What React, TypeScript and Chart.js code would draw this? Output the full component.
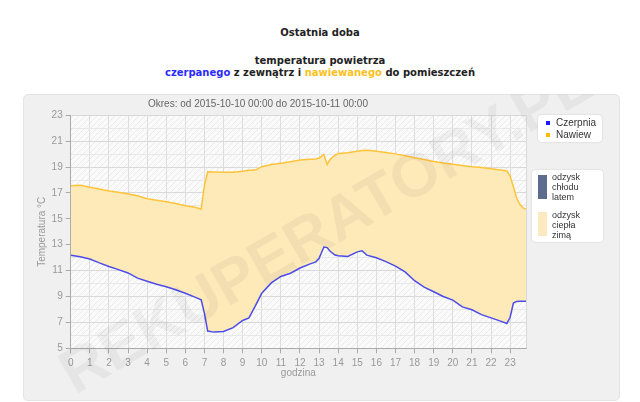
import React, { useEffect, useRef } from 'react';
import { Chart, registerables } from 'chart.js';

Chart.register(...registerables);

// ---- data ----
const hours = [
  0, 0.5, 1, 1.5, 2, 2.5, 3, 3.5, 4, 4.5, 5, 5.5, 6, 6.5,
  6.83, 7, 7.17, 7.5, 8, 8.5, 9, 9.33, 9.67, 10,
  10.5, 11, 11.5, 12, 12.5, 12.83,
  13, 13.25, 13.42, 13.58, 13.83, 14,
  14.5, 15, 15.25, 15.5, 16, 16.5, 17, 17.5, 18, 18.5, 19, 19.5, 20, 20.5, 21, 21.5, 22, 22.5,
  22.83, 23, 23.17, 23.33, 23.5, 23.67, 23.83,
];

const nawiew = [
  17.55, 17.6, 17.45, 17.3, 17.15, 17.05, 16.92, 16.78, 16.55, 16.43, 16.32, 16.18, 16.02, 15.9,
  15.76, 17.6, 18.64, 18.62, 18.6, 18.6, 18.68, 18.75, 18.77, 19.03,
  19.2, 19.3, 19.42, 19.55, 19.6, 19.62,
  19.7, 19.98, 19.2, 19.6, 19.9, 20.05,
  20.1, 20.22, 20.28, 20.3, 20.22, 20.12, 20.02, 19.88, 19.72, 19.58, 19.43, 19.32, 19.22, 19.12, 19.02, 18.97, 18.88, 18.78,
  18.7, 18.3, 17.5, 16.65, 16.15, 15.85, 15.76,
];

const czerpnia = [
  12.18, 12.07, 11.9, 11.6, 11.32, 11.08, 10.82, 10.42, 10.18, 9.95, 9.75, 9.52, 9.25, 8.95,
  8.75, 7.7, 6.33, 6.25, 6.3, 6.6, 7.15, 7.35, 8.3, 9.25,
  10.05, 10.55, 10.8, 11.2, 11.5, 11.68,
  11.95, 12.82, 12.78, 12.5, 12.2, 12.15,
  12.1, 12.45, 12.54, 12.2, 12.0, 11.7, 11.35, 10.9, 10.22, 9.72, 9.37, 9.0, 8.72, 8.2, 7.98, 7.6, 7.35, 7.1,
  6.92, 7.4, 8.5, 8.62, 8.63, 8.64, 8.64,
];

const xRange = [0, 23.83];
const yRange = [5, 23];
const chartTitle = 'Okres: od 2015-10-10 00:00 do 2015-10-11 00:00';
const xTitle = 'godzina';
const yTitle = 'Temperatura °C';
const watermarkText = 'REKUPERATORY.PL';
const seriesLabels = ['Czerpnia', 'Nawiew'];

const FONT = '"Liberation Sans", Arial, sans-serif';

export default function App() {
  const ref = useRef<HTMLCanvasElement>(null);

  useEffect(() => {
    const canvas = ref.current;
    if (!canvas) return;

    // hatched plot background
    const pc = document.createElement('canvas');
    pc.width = 6;
    pc.height = 6;
    const pctx = pc.getContext('2d')!;
    pctx.fillStyle = '#fafafa';
    pctx.fillRect(0, 0, 6, 6);
    pctx.strokeStyle = '#ebebeb';
    pctx.lineWidth = 1;
    pctx.beginPath();
    pctx.moveTo(0, 6);
    pctx.lineTo(6, 0);
    pctx.moveTo(-1, 1);
    pctx.lineTo(1, -1);
    pctx.moveTo(5, 7);
    pctx.lineTo(7, 5);
    pctx.stroke();

    const bgPlugin = {
      id: 'plotBg',
      beforeDraw(chart: any) {
        const { ctx, chartArea } = chart;
        const pat = ctx.createPattern(pc, 'repeat');
        ctx.save();
        ctx.fillStyle = pat || '#fafafa';
        ctx.fillRect(chartArea.left, chartArea.top, chartArea.right - chartArea.left, chartArea.bottom - chartArea.top);
        ctx.restore();
      },
      afterDraw(chart: any) {
        const { ctx, chartArea } = chart;
        ctx.save();
        ctx.strokeStyle = '#d8d8d8';
        ctx.lineWidth = 1;
        ctx.beginPath();
        ctx.moveTo(Math.round(chartArea.right) + 0.5, chartArea.top);
        ctx.lineTo(Math.round(chartArea.right) + 0.5, chartArea.bottom);
        ctx.stroke();
        ctx.restore();
      },
    };

    const titlePlugin = {
      id: 'customTitle',
      afterDraw(chart: any) {
        const { ctx } = chart;
        ctx.save();
        ctx.font = '10px ' + FONT;
        ctx.fillStyle = '#666';
        ctx.textAlign = 'center';
        ctx.textBaseline = 'middle';
        ctx.fillText(chartTitle, 235, 10);
        ctx.restore();
      },
    };

    const watermarkPlugin = {
      id: 'watermark',
      afterDatasetsDraw(chart: any) {
        const { ctx } = chart;
        ctx.save();
        ctx.translate(304, 136);
        ctx.rotate(-Math.PI / 6);
        ctx.font = 'bold 62px ' + FONT;
        ctx.fillStyle = 'rgba(0,0,0,0.045)';
        ctx.textAlign = 'center';
        ctx.textBaseline = 'middle';
        ctx.fillText(watermarkText, 0, 0);
        ctx.restore();
      },
    };

    const chart = new Chart(canvas, {
      type: 'line',
      data: {
        datasets: [
          {
            label: seriesLabels[0],
            data: hours.map((h, i) => ({ x: h, y: czerpnia[i] })),
            borderColor: '#4c4ce8',
            borderWidth: 1.5,
            pointRadius: 0,
            tension: 0,
            fill: false,
          },
          {
            label: seriesLabels[1],
            data: hours.map((h, i) => ({ x: h, y: nawiew[i] })),
            borderColor: '#ffc43a',
            backgroundColor: '#fee9b9',
            borderWidth: 1.5,
            pointRadius: 0,
            tension: 0,
            fill: '-1',
          },
        ],
      },
      options: {
        responsive: false,
        animation: false,
        events: [],
        layout: { padding: { top: 21.3, right: 94, left: 0, bottom: 0 } },
        plugins: {
          legend: { display: false },
          tooltip: { enabled: false },
          title: { display: false },
        },
        scales: {
          x: {
            type: 'linear',
            min: xRange[0],
            max: xRange[1],
            ticks: {
              stepSize: 1,
              includeBounds: false,
              autoSkip: false,
              maxRotation: 0,
              padding: 4,
              color: '#999',
              font: { family: FONT, size: 10 },
            },
            grid: {
              color: '#dddddd',
              tickColor: '#aaa',
              tickLength: 5,
              lineWidth: 1,
            },
            border: { color: '#aaa', width: 1 },
            title: {
              display: true,
              text: xTitle,
              color: '#999',
              font: { family: FONT, size: 10 },
              padding: { top: 0, bottom: 22 },
            },
            afterFit: (s: any) => {
              s.height = 52.7;
            },
          },
          y: {
            type: 'linear',
            min: yRange[0],
            max: yRange[1],
            ticks: {
              stepSize: 1,
              autoSkip: false,
              padding: 3,
              color: '#999',
              font: { family: FONT, size: 10 },
              callback: (v: any) => (Number(v) % 2 === 1 ? String(v) : ''),
            },
            grid: {
              color: (c: any) => (c.tick && Number(c.tick.value) % 2 === 1 ? '#d9d9d9' : '#e8e8e8'),
              tickColor: (c: any) => (c.tick && Number(c.tick.value) % 2 === 1 ? '#aaa' : 'rgba(0,0,0,0)'),
              tickLength: 5,
              lineWidth: 1,
            },
            border: { color: '#aaa', width: 1 },
            title: {
              display: true,
              text: yTitle,
              color: '#999',
              font: { family: FONT, size: 10 },
              padding: { top: 13, bottom: 0 },
            },
            afterFit: (s: any) => {
              s.width = 47.7;
            },
          },
        },
      },
      plugins: [bgPlugin, titlePlugin, watermarkPlugin],
    });

    return () => chart.destroy();
  }, []);

  const headStyle: React.CSSProperties = {
    position: 'absolute',
    left: 0,
    width: 640,
    textAlign: 'center',
    fontFamily: '"DejaVu Sans", Verdana, sans-serif',
    fontWeight: 'bold',
    fontSize: 10,
    lineHeight: '12px',
    color: '#222',
    whiteSpace: 'nowrap',
  };

  const legText: React.CSSProperties = {
    position: 'absolute',
    fontFamily: FONT,
    color: '#333',
    whiteSpace: 'nowrap',
  };

  return (
    <div style={{ position: 'absolute', left: 0, top: 0, width: 640, height: 402, background: '#fff', overflow: 'hidden' }}>
      <div style={{ ...headStyle, top: 27 }}>Ostatnia doba</div>
      <div style={{ ...headStyle, top: 55 }}>temperatura powietrza</div>
      <div style={{ ...headStyle, top: 67 }}>
        <span style={{ color: '#2a2aff' }}>czerpanego</span> z zewnątrz i{' '}
        <span style={{ color: '#ffbf1c' }}>nawiewanego</span> do pomieszczeń
      </div>

      <div
        style={{
          position: 'absolute',
          left: 23,
          top: 94,
          width: 597,
          height: 307,
          boxSizing: 'border-box',
          background: '#f0f0f0',
          border: '1px solid #e4e4e4',
          borderRadius: 5,
        }}
      />
      <canvas ref={ref} width={597} height={307} style={{ position: 'absolute', left: 23, top: 94, width: 597, height: 307 }} />

      <div
        style={{
          position: 'absolute',
          left: 538,
          top: 115,
          width: 64,
          height: 27,
          background: '#fff',
          borderRadius: 4,
          boxShadow: '0 0 2px rgba(0,0,0,0.18)',
        }}
      >
        <div style={{ position: 'absolute', left: 8, top: 6, width: 4, height: 4, background: '#1a1aff' }} />
        <div style={{ ...legText, left: 18, top: 2, fontSize: 10, lineHeight: '12px' }}>{seriesLabels[0]}</div>
        <div style={{ position: 'absolute', left: 8, top: 18, width: 4, height: 4, background: '#ffbb00' }} />
        <div style={{ ...legText, left: 18, top: 14, fontSize: 10, lineHeight: '12px' }}>{seriesLabels[1]}</div>
      </div>

      <div
        style={{
          position: 'absolute',
          left: 532,
          top: 170,
          width: 71,
          height: 72,
          background: '#fff',
          borderRadius: 4,
          boxShadow: '0 0 2px rgba(0,0,0,0.15)',
        }}
      >
        <div style={{ position: 'absolute', left: 6, top: 5, width: 9, height: 24, background: '#5d6b8f' }} />
        <div style={{ ...legText, left: 20, top: 2, fontSize: 9, lineHeight: '10px' }}>
          odzysk
          <br />
          chłodu
          <br />
          latem
        </div>
        <div style={{ position: 'absolute', left: 6, top: 42, width: 9, height: 24, background: '#fde9bf' }} />
        <div style={{ ...legText, left: 20, top: 40, fontSize: 9, lineHeight: '10px' }}>
          odzysk
          <br />
          ciepła
          <br />
          zimą
        </div>
      </div>
    </div>
  );
}
